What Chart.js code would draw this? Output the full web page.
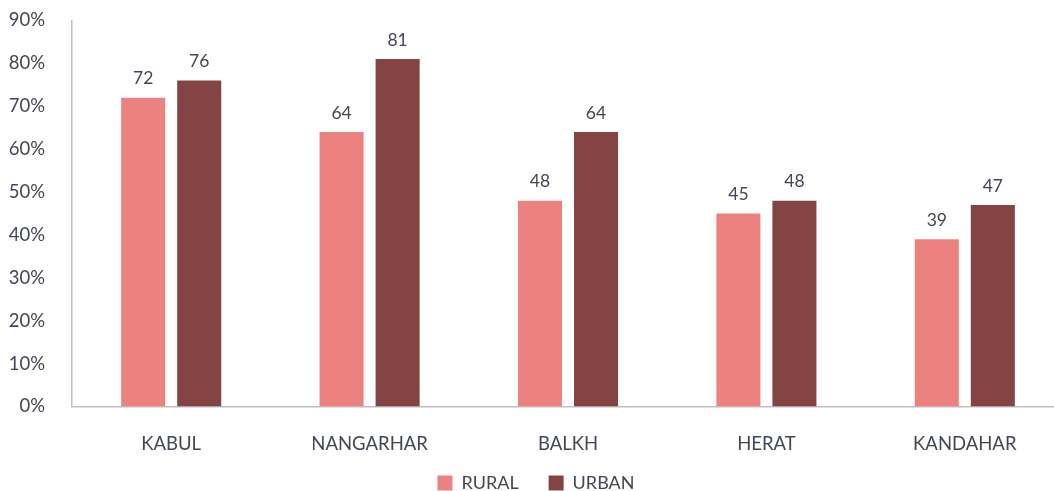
<!DOCTYPE html>
<html>
<head>
<meta charset="utf-8">
<script src="https://cdn.jsdelivr.net/npm/chart.js@4/dist/chart.umd.min.js"></script>
<style>
  html, body { margin: 0; padding: 0; background: #ffffff; }
  #wrap { width: 1054px; height: 491px; position: relative; overflow: hidden; }
</style>
</head>
<body>
<div id="wrap"><canvas id="chart" width="1064" height="491"></canvas></div>
<script>
// Provinces and the share for each setting (percent)
const provinces = ['KABUL', 'NANGARHAR', 'BALKH', 'HERAT', 'KANDAHAR'];
const rural = [72, 64, 48, 45, 39];
const urban = [76, 81, 64, 48, 47];
const yTicks = [0, 10, 20, 30, 40, 50, 60, 70, 80, 90];

const textColor = '#43465A';
const axisColor = '#BFBFBF';
const fontFamily = 'Lato, "Open Sans", sans-serif';

// Writes each bar's value just above its top
const valueLabels = {
  id: 'valueLabels',
  afterDatasetsDraw(chart) {
    const ctx = chart.ctx;
    ctx.save();
    ctx.font = '17.5px ' + fontFamily;
    ctx.fillStyle = textColor;
    ctx.textAlign = 'center';
    ctx.textBaseline = 'middle';
    chart.data.datasets.forEach((ds, i) => {
      const meta = chart.getDatasetMeta(i);
      meta.data.forEach((bar, j) => {
        ctx.fillText(String(ds.data[j]), bar.x, bar.y - 19);
      });
    });
    ctx.restore();
  }
};

new Chart(document.getElementById('chart'), {
  type: 'bar',
  data: {
    labels: provinces,
    datasets: [
      { label: 'RURAL', data: rural, backgroundColor: '#EB8280',
        categoryPercentage: 0.565, barPercentage: 0.786 },
      { label: 'URBAN', data: urban, backgroundColor: '#844444',
        categoryPercentage: 0.565, barPercentage: 0.786 }
    ]
  },
  options: {
    responsive: false,
    animation: false,
    devicePixelRatio: 1,
    layout: { padding: { top: 20.5, right: 0, left: 8, bottom: -11 } },
    plugins: {
      legend: {
        position: 'bottom',
        labels: {
          color: textColor,
          font: { size: 18, family: fontFamily },
          boxWidth: 15, boxHeight: 15, padding: 30
        }
      },
      tooltip: { enabled: false }
    },
    scales: {
      x: {
        afterFit(scale) {
          scale.height = 37.5;
          // let the province names run below the axis box
          scale._computeLabelArea = () => undefined;
        },
        grid: { display: false },
        border: { display: true, color: axisColor, width: 1.5 },
        ticks: { color: textColor, font: { size: 18.5, family: fontFamily }, padding: 18 }
      },
      y: {
        min: 0, max: 90,
        afterBuildTicks(scale) { scale.ticks = yTicks.map(v => ({ value: v })); },
        afterFit(scale) {
          scale.width = 64;
          scale.paddingTop = 0;
          scale.paddingBottom = 0;
        },
        grid: { display: false },
        border: { display: true, color: axisColor, width: 1.5 },
        ticks: { color: textColor, font: { size: 18.5, family: fontFamily }, padding: 19,
                 callback: v => v + '%' }
      }
    }
  },
  plugins: [valueLabels]
});
</script>
</body>
</html>
